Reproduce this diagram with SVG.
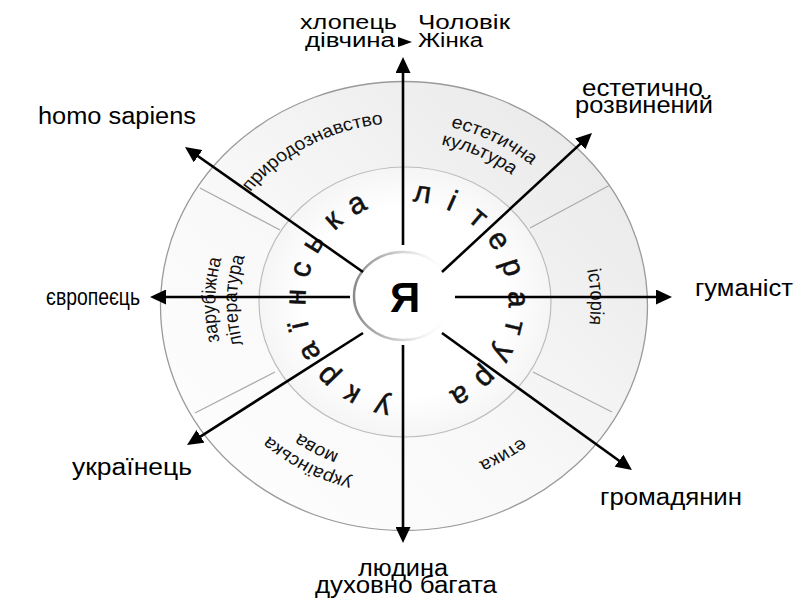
<svg xmlns="http://www.w3.org/2000/svg" width="795" height="599" viewBox="0 0 795 599">
<style>
.lbl{font-family:"Liberation Sans",Arial,sans-serif;fill:#000;}
.ring{font-family:"Liberation Sans",Arial,sans-serif;font-size:18px;fill:#111;}
.let{font-family:"Liberation Sans",Arial,sans-serif;font-size:30px;fill:#111;stroke:#111;stroke-width:0.5;text-anchor:middle;}
.div{stroke:#ababab;stroke-width:1.3;fill:none;}
.arr{stroke:#000;stroke-width:2.6;fill:none;marker-end:url(#ah);}
</style>
<defs>
<marker id="ah" markerUnits="userSpaceOnUse" markerWidth="16" markerHeight="15" refX="10" refY="7.5" orient="auto">
<path d="M0,0 L16,7.5 L0,15 z" fill="#000"/>
</marker>
<linearGradient id="gOuter" x1="0" y1="1" x2="1" y2="0">
<stop offset="0" stop-color="#ffffff"/>
<stop offset="0.45" stop-color="#f8f8f8"/>
<stop offset="1" stop-color="#e6e6e6"/>
</linearGradient>
<radialGradient id="gMid" cx="0.5" cy="0.5" r="0.5">
<stop offset="0.7" stop-color="#ffffff"/>
<stop offset="1" stop-color="#f5f5f5"/>
</radialGradient>
<linearGradient id="gShadow" x1="0" y1="0" x2="1" y2="0">
<stop offset="0" stop-color="#8a8a8a"/>
<stop offset="0.45" stop-color="#cfcfcf"/>
<stop offset="1" stop-color="#ffffff" stop-opacity="0"/>
</linearGradient>
<path id="pPrir" d="M-176.7,-34.3 A180,180 0 0 1 64.5,-168.0"/>
<path id="pEst1" d="M-70.7,-166.6 A181,181 0 0 1 176.4,-40.7"/>
<path id="pEst2" d="M-68.5,-146.8 A162,162 0 0 1 156.5,-41.9"/>
<path id="pIst" d="M105.9,-135.5 A172,172 0 0 1 115.1,127.8"/>
<path id="pEt" d="M170.9,27.1 A173,173 0 0 1 -56.3,163.6"/>
<path id="pUkr1" d="M65.2,169.9 A182,182 0 0 1 -178.7,34.7"/>
<path id="pUkr2" d="M58.1,151.2 A162,162 0 0 1 -159.0,30.9"/>
<path id="pZar1" d="M-114.2,131.3 A174,174 0 0 1 -109.5,-135.2"/>
<path id="pZar2" d="M-101.0,116.2 A154,154 0 0 1 -96.9,-119.7"/>
</defs>
<rect width="795" height="599" fill="#ffffff"/>

<g id="ring-outer">
<ellipse cx="404" cy="306" rx="243.5" ry="224.5" fill="url(#gOuter)" stroke="#9a9a9a" stroke-width="1.3"/>
<line class="div" x1="200" y1="188" x2="280" y2="230"/>
<line class="div" x1="530" y1="228" x2="610" y2="185"/>
<line class="div" x1="195" y1="413" x2="275" y2="372"/>
<line class="div" x1="533" y1="372" x2="612" y2="412"/>
</g>
<g id="ring-middle">
<ellipse cx="405" cy="302" rx="146" ry="135" fill="url(#gMid)" stroke="#bdbdbd" stroke-width="1.2"/>
</g>
<g id="centre">
<ellipse cx="403" cy="296" rx="49" ry="44" fill="#ffffff" stroke="url(#gShadow)" stroke-width="2.5"/>
<text class="lbl" x="405" y="312" font-size="42" font-weight="bold" text-anchor="middle">Я</text>
</g>

<g id="segments" transform="translate(404,303) scale(1.085,1)">
<g id="seg-pryrodoznavstvo"><text class="ring"><textPath href="#pPrir" startOffset="50%" text-anchor="middle">природознавство</textPath></text></g>
<g id="seg-estetychna"><text class="ring" font-size="17"><textPath href="#pEst1" startOffset="50%" text-anchor="middle">естетична</textPath></text>
<text class="ring" font-size="17"><textPath href="#pEst2" startOffset="50%" text-anchor="middle">культура</textPath></text></g>
<g id="seg-istoriia"><text class="ring"><textPath href="#pIst" startOffset="50%" text-anchor="middle">історія</textPath></text></g>
<g id="seg-etyka"><text class="ring"><textPath href="#pEt" startOffset="50%" text-anchor="middle">етика</textPath></text></g>
<g id="seg-ukrmova"><text class="ring" font-size="17"><textPath href="#pUkr1" startOffset="50%" text-anchor="middle">українська</textPath></text>
<text class="ring" font-size="17"><textPath href="#pUkr2" startOffset="50%" text-anchor="middle">мова</textPath></text></g>
<g id="seg-zarubizhna"><text class="ring" font-size="19"><textPath href="#pZar1" startOffset="50%" text-anchor="middle">зарубіжна</textPath></text>
<text class="ring" font-size="19"><textPath href="#pZar2" startOffset="50%" text-anchor="middle">література</textPath></text></g>
</g>

<g id="circle-letters">
<text class="let" transform="translate(382.3,406.2) rotate(193)" dy="0.28em">у</text>
<text class="let" transform="translate(352,394.5) rotate(210)" dy="0.28em">к</text>
<text class="let" transform="translate(327.9,376) rotate(226)" dy="0.28em">р</text>
<text class="let" transform="translate(309.9,351.7) rotate(242)" dy="0.28em">а</text>
<text class="let" transform="translate(299.8,325.3) rotate(257)" dy="0.28em">ї</text>
<text class="let" transform="translate(297.1,297.2) rotate(272)" dy="0.28em">н</text>
<text class="let" transform="translate(301.8,269.4) rotate(287)" dy="0.28em">с</text>
<text class="let" transform="translate(313.7,243.8) rotate(302)" dy="0.28em">ь</text>
<text class="let" transform="translate(333.4,220.7) rotate(318)" dy="0.28em">к</text>
<text class="let" transform="translate(357.1,204.8) rotate(333)" dy="0.28em">а</text>
<text class="let" transform="translate(422.3,194) rotate(8)" dy="0.28em">л</text>
<text class="let" transform="translate(451.7,202.3) rotate(24)" dy="0.28em">і</text>
<text class="let" transform="translate(477.7,218.3) rotate(40)" dy="0.28em">т</text>
<text class="let" transform="translate(498.2,240.6) rotate(56)" dy="0.28em">е</text>
<text class="let" transform="translate(511.6,267.6) rotate(72)" dy="0.28em">р</text>
<text class="let" transform="translate(517,299.1) rotate(89)" dy="0.28em">а</text>
<text class="let" transform="translate(513.7,327.1) rotate(104)" dy="0.28em">т</text>
<text class="let" transform="translate(503.2,353.4) rotate(119)" dy="0.28em">у</text>
<text class="let" transform="translate(484.8,377.4) rotate(135)" dy="0.28em">р</text>
<text class="let" transform="translate(460.3,395.5) rotate(151)" dy="0.28em">а</text>
</g>

<g id="connectors">
<line class="arr" x1="403" y1="245" x2="403" y2="63"/>
<line class="arr" x1="403" y1="345" x2="403" y2="537"/>
<line class="arr" x1="350" y1="297" x2="156" y2="297"/>
<line class="arr" x1="455" y1="297" x2="666" y2="297"/>
<line class="arr" x1="363" y1="272" x2="189.9" y2="150.5"/>
<line class="arr" x1="442" y1="272" x2="587.6" y2="137.1"/>
<line class="arr" x1="363" y1="333" x2="192.1" y2="441.8"/>
<line class="arr" x1="442" y1="333" x2="627.1" y2="466.5"/>
</g>

<g id="label-top">
<text class="lbl" x="300" y="29" font-size="20" textLength="97" lengthAdjust="spacingAndGlyphs">хлопець</text>
<text class="lbl" x="305" y="47" font-size="20" textLength="90" lengthAdjust="spacingAndGlyphs">дівчина</text>
<polygon points="398,37 412,42 398,47" fill="#000"/>
<text class="lbl" x="418" y="29" font-size="20" textLength="92" lengthAdjust="spacingAndGlyphs">Чоловік</text>
<text class="lbl" x="418" y="47" font-size="20" textLength="65" lengthAdjust="spacingAndGlyphs">Жінка</text>
</g>
<g id="label-estetychno">
<text class="lbl" x="582" y="96" font-size="23" textLength="121" lengthAdjust="spacingAndGlyphs">естетично</text>
<text class="lbl" x="575" y="113" font-size="23" textLength="138" lengthAdjust="spacingAndGlyphs">розвинений</text>
</g>
<g id="label-homo"><text class="lbl" x="38" y="124" font-size="23" textLength="158" lengthAdjust="spacingAndGlyphs">homo sapiens</text></g>
<g id="label-humanist"><text class="lbl" x="695" y="296" font-size="23" textLength="98" lengthAdjust="spacingAndGlyphs">гуманіст</text></g>
<g id="label-yevropeiets"><text class="lbl" x="46" y="305" font-size="23" textLength="94" lengthAdjust="spacingAndGlyphs">європеєць</text></g>
<g id="label-ukrainets"><text class="lbl" x="72" y="475" font-size="23" textLength="120" lengthAdjust="spacingAndGlyphs">українець</text></g>
<g id="label-hromadianyn"><text class="lbl" x="600" y="505" font-size="23" textLength="142" lengthAdjust="spacingAndGlyphs">громадянин</text></g>
<g id="label-liudyna">
<text class="lbl" x="358" y="576" font-size="23" textLength="90" lengthAdjust="spacingAndGlyphs">людина</text>
<text class="lbl" x="315" y="593" font-size="23" textLength="182" lengthAdjust="spacingAndGlyphs">духовно багата</text>
</g>
</svg>
